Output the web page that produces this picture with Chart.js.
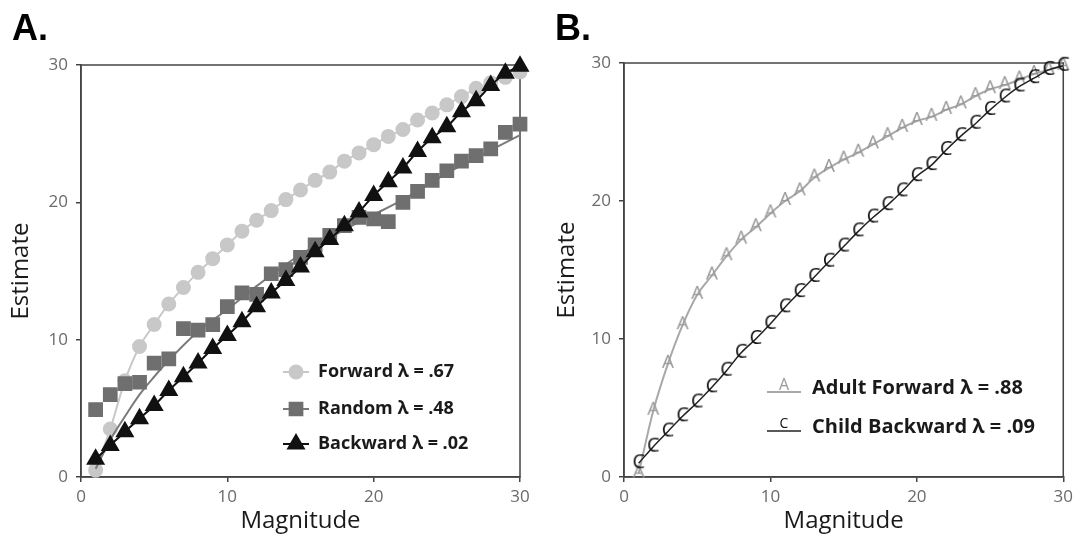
<!DOCTYPE html>
<html>
<head>
<meta charset="utf-8">
<script src="https://cdn.jsdelivr.net/npm/chart.js@4.4.1/dist/chart.umd.min.js"></script>
<style>
  body { margin: 0; background: #fff; width: 1078px; height: 539px; overflow: hidden; position: relative; }
  .panel { position: absolute; top: 0; }
  .tag { position: absolute; top: 10px; font: bold 36px "Liberation Sans", Arial, sans-serif; line-height: 36px; color: #000; }
</style>
</head>
<body>
<canvas id="chartA" class="panel" style="left:0" width="540" height="539"></canvas>
<canvas id="chartB" class="panel" style="left:540px" width="538" height="539"></canvas>
<div class="tag" style="left:12px">A.</div>
<div class="tag" style="left:555px">B.</div>
<script>
// values
const magnitude = [1, 2, 3, 4, 5, 6, 7, 8, 9, 10, 11, 12, 13, 14, 15, 16, 17, 18, 19, 20, 21, 22, 23, 24, 25, 26, 27, 28, 29, 30];

// panel A
const forwardEst  = [0.5, 3.5, 7.0, 9.5, 11.1, 12.6, 13.8, 14.9, 15.9, 16.9, 17.9, 18.7, 19.4, 20.2, 20.9, 21.6, 22.2, 23.0, 23.6, 24.2, 24.8, 25.3, 26.0, 26.5, 27.1, 27.7, 28.3, 28.7, 29.1, 29.5];
const randomEst   = [4.9, 6.0, 6.8, 6.9, 8.3, 8.6, 10.8, 10.7, 11.1, 12.4, 13.4, 13.3, 14.8, 15.1, 16.0, 16.9, 17.6, 18.3, 18.9, 18.8, 18.6, 20.0, 20.8, 21.6, 22.3, 23.0, 23.4, 23.9, 25.1, 25.7];
const backwardEst = [1.3, 2.3, 3.3, 4.25, 5.2, 6.3, 7.3, 8.3, 9.35, 10.3, 11.3, 12.4, 13.4, 14.3, 15.3, 16.4, 17.3, 18.3, 19.3, 20.5, 21.5, 22.5, 23.7, 24.7, 25.5, 26.6, 27.4, 28.5, 29.4, 29.9];
const randomFitX  = [1, 2, 3, 4, 5, 6, 8, 10, 12, 15, 18, 20, 22, 25, 28, 30];
const randomFitY  = [0.6, 2.7, 4.4, 6.0, 7.3, 8.5, 10.6, 12.2, 13.9, 16.2, 18.0, 19.1, 20.2, 22.1, 23.8, 24.9];

// panel B
const adultEst = [0.25, 4.8, 8.2, 11.0, 13.2, 14.6, 16.0, 17.2, 18.1, 19.1, 20.0, 20.7, 21.7, 22.4, 23.0, 23.5, 24.1, 24.7, 25.3, 25.8, 26.1, 26.6, 27.0, 27.6, 28.1, 28.4, 28.8, 29.2, 29.5, 29.8];
const childEst = [1.0, 2.2, 3.3, 4.4, 5.4, 6.5, 7.7, 9.0, 10.0, 11.1, 12.3, 13.4, 14.5, 15.6, 16.7, 17.8, 18.8, 19.7, 20.7, 21.8, 22.6, 23.7, 24.7, 25.6, 26.6, 27.5, 28.3, 28.9, 29.5, 29.8];

const legendA = ["Forward λ = .67", "Random λ = .48", "Backward λ = .02"];
const legendB = ["Adult Forward λ = .88", "Child Backward λ = .09"];
const axisTicks = [0, 10, 20, 30];

Chart.defaults.font.family = "'Open Sans', sans-serif";

function pts(xs, ys) {
  return xs.map((x, i) => ({ x: x, y: ys[i] }));
}

// letter markers for panel B
function letter(ch, color, size, dy) {
  const c = document.createElement("canvas");
  c.width = 26; c.height = 26;
  const g = c.getContext("2d");
  g.fillStyle = color;
  g.font = `${size}px 'Open Sans'`;
  g.textAlign = "center";
  g.textBaseline = "middle";
  g.fillText(ch, 13, 13 + dy);
  return c;
}

const frame = {
  id: "frame",
  beforeDatasetsDraw(chart) {
    const { ctx, chartArea: a } = chart;
    ctx.save();
    ctx.strokeStyle = "#444";
    ctx.lineWidth = 1.5;
    ctx.strokeRect(a.left, a.top, a.right - a.left, a.bottom - a.top);
    ctx.restore();
  }
};

const inLegend = {
  id: "inLegend",
  afterDatasetsDraw(chart, args, opts) {
    if (!opts.items) return;
    const { ctx, chartArea: a } = chart;
    ctx.save();
    opts.items.forEach((it, i) => {
      const ds = chart.data.datasets[it.ds];
      const y = a.bottom + opts.rowY[i];
      const x0 = a.left + opts.lineX[0], x1 = a.left + opts.lineX[1];
      const ly = y + (opts.lineDy || 0);
      ctx.strokeStyle = ds.borderColor;
      ctx.lineWidth = ds.borderWidth;
      ctx.beginPath();
      ctx.moveTo(x0, ly);
      ctx.lineTo(x1, ly);
      ctx.stroke();
      ctx.fillStyle = ds.pointBackgroundColor;
      ctx.strokeStyle = ds.pointBorderColor;
      Chart.helpers.drawPoint(ctx, {
        pointStyle: it.marker || ds.pointStyle,
        radius: ds.pointRadius, rotation: 0, borderWidth: 1
      }, (x0 + x1) / 2, y + (opts.markerDy || 0));
      ctx.fillStyle = "#1a1a1a";
      ctx.font = opts.font;
      ctx.textBaseline = "middle";
      ctx.fillText(it.text, a.left + opts.textX, y);
    });
    ctx.restore();
  }
};

function scales(yWidth, yTitlePad) {
  const tickFont = { size: 17 };
  return {
    x: {
      type: "linear", min: 0, max: 30,
      afterBuildTicks: s => { s.ticks = axisTicks.map(v => ({ value: v })); },
      ticks: { color: "#6a6a6a", font: tickFont, padding: 5, maxRotation: 0 },
      grid: { drawOnChartArea: false, tickLength: 5, color: "#444", lineWidth: 1.5 },
      border: { color: "#444", width: 1.5 },
      title: { display: true, text: "Magnitude", color: "#1a1a1a", font: { size: 24 }, padding: { top: 0, bottom: 3 } },
      afterFit: s => { s.height = 62; }
    },
    y: {
      type: "linear", min: 0, max: 30,
      afterBuildTicks: s => { s.ticks = axisTicks.map(v => ({ value: v })); },
      ticks: { color: "#6a6a6a", font: tickFont, padding: 8 },
      grid: { drawOnChartArea: false, tickLength: 5, color: "#444", lineWidth: 1.5 },
      border: { color: "#444", width: 1.5 },
      title: { display: true, text: "Estimate", color: "#1a1a1a", font: { size: 24 }, padding: { top: yTitlePad, bottom: 0 } },
      afterFit: s => { s.width = yWidth; }
    }
  };
}

// Panel A
new Chart(document.getElementById("chartA"), {
  type: "scatter",
  data: {
    datasets: [
      {
        label: legendA[0], data: pts(magnitude, forwardEst), order: 3, clip: false,
        showLine: true, cubicInterpolationMode: "monotone",
        borderColor: "#c8c8c8", borderWidth: 2,
        pointStyle: "circle", pointRadius: 6.5,
        pointBackgroundColor: "#c8c8c8", pointBorderColor: "#c8c8c8"
      },
      {
        label: legendA[1], data: pts(magnitude, randomEst), order: 2, clip: false,
        showLine: false,
        borderColor: "#7a7a7a", borderWidth: 2,
        pointStyle: "rect", pointRadius: 9,
        pointBackgroundColor: "#6f6f6f", pointBorderColor: "#6f6f6f"
      },
      {
        label: legendA[2], data: pts(magnitude, backwardEst), order: 1, clip: false,
        showLine: true, cubicInterpolationMode: "monotone",
        borderColor: "#111", borderWidth: 2,
        pointStyle: "triangle", pointRadius: 9,
        pointBackgroundColor: "#111", pointBorderColor: "#111"
      },
      {
        label: "Random fit", data: pts(randomFitX, randomFitY), order: 2.5, clip: false,
        showLine: true, cubicInterpolationMode: "monotone",
        borderColor: "#7a7a7a", borderWidth: 2, pointRadius: 0
      }
    ]
  },
  options: {
    responsive: false, animation: false,
    layout: { padding: { top: 65, right: 20, left: 0, bottom: 0 } },
    scales: scales(81, 7),
    plugins: {
      legend: { display: false }, tooltip: { enabled: false },
      inLegend: {
        items: [{ ds: 0, text: legendA[0] }, { ds: 1, text: legendA[1] }, { ds: 2, text: legendA[2] }],
        rowY: [-105, -68, -33], lineX: [202, 228], textX: 237,
        font: "bold 18px 'Open Sans', sans-serif"
      }
    }
  },
  plugins: [frame, inLegend]
});

// Panel B
new Chart(document.getElementById("chartB"), {
  type: "scatter",
  data: {
    datasets: [
      {
        label: legendB[0], data: pts(magnitude, adultEst), order: 2, clip: false,
        showLine: true, cubicInterpolationMode: "monotone",
        borderColor: "#a8a8a8", borderWidth: 2,
        pointStyle: letter("A", "#999", 19, -1), pointRadius: 6
      },
      {
        label: legendB[1], data: pts(magnitude, childEst), order: 1, clip: false,
        showLine: true, cubicInterpolationMode: "monotone",
        borderColor: "#222", borderWidth: 1.5,
        pointStyle: letter("C", "#111", 20, -1), pointRadius: 6
      }
    ]
  },
  options: {
    responsive: false, animation: false,
    layout: { padding: { top: 63, right: 11, left: 0, bottom: 0 } },
    scales: scales(84, 13),
    plugins: {
      legend: { display: false }, tooltip: { enabled: false },
      inLegend: {
        items: [
          { ds: 0, text: legendB[0], marker: letter("A", "#999", 16, 0) },
          { ds: 1, text: legendB[1], marker: letter("C", "#111", 14, 0) }
        ],
        rowY: [-89, -50], lineX: [143, 177], textX: 188, lineDy: 4, markerDy: -3,
        font: "bold 20px 'Open Sans', sans-serif"
      }
    }
  },
  plugins: [frame, inLegend]
});
</script>
</body>
</html>
